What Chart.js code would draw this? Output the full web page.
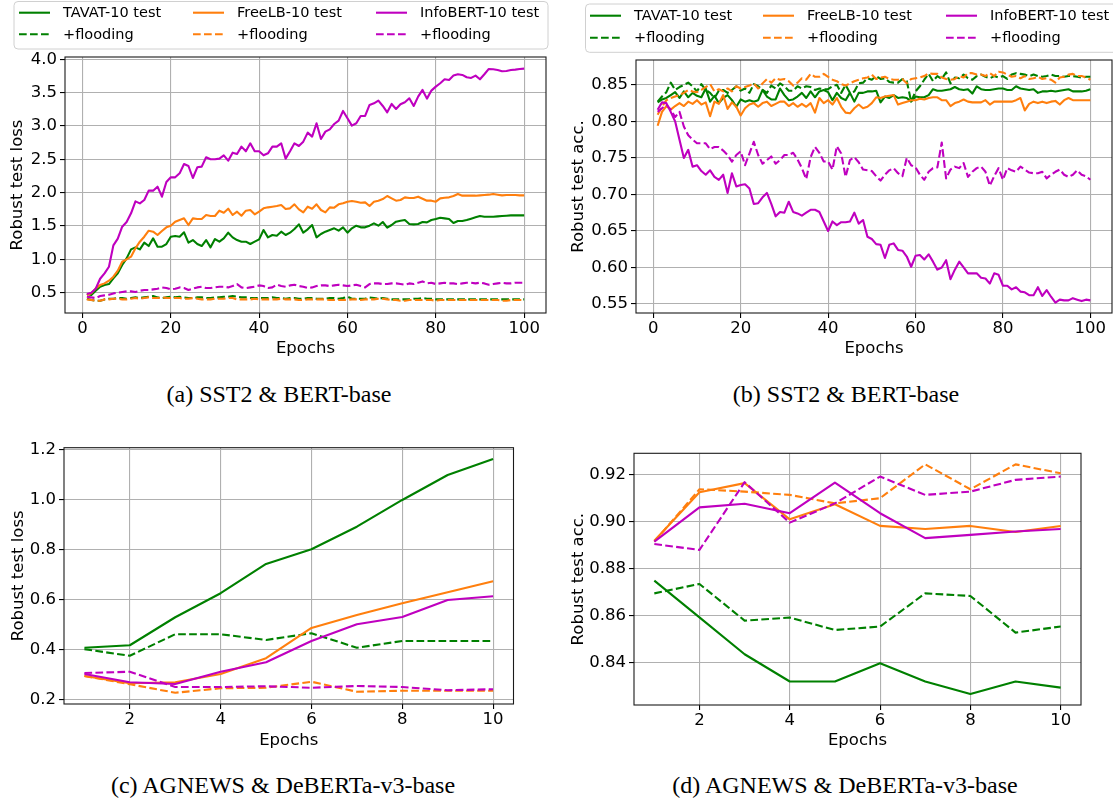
<!DOCTYPE html>
<html>
<head>
<meta charset="utf-8">
<script src="https://cdn.jsdelivr.net/npm/chart.js@4.4.1/dist/chart.umd.min.js"></script>
<style>
  body { margin: 0; background: #fff; width: 1113px; height: 802px; position: relative; overflow: hidden; }
  canvas { position: absolute; }
  .cap {
    position: absolute; white-space: nowrap; line-height: 1; color: #000;
    font-family: "Liberation Serif", "Times New Roman", serif; font-size: 24px;
    transform: translateX(-50%);
  }
</style>
</head>
<body>
<canvas id="ca" width="560" height="362" style="left:0;top:0"></canvas>
<canvas id="cb" width="553" height="362" style="left:560px;top:0"></canvas>
<canvas id="cc" width="560" height="335" style="left:0;top:420px"></canvas>
<canvas id="cd" width="553" height="335" style="left:560px;top:420px"></canvas>
<div class="cap" style="left:279px;top:382px">(a) SST2 &amp; BERT-base</div>
<div class="cap" style="left:846px;top:382px">(b) SST2 &amp; BERT-base</div>
<div class="cap" style="left:283px;top:773px">(c) AGNEWS &amp; DeBERTa-v3-base</div>
<div class="cap" style="left:845px;top:773px">(d) AGNEWS &amp; DeBERTa-v3-base</div>
<script>
// ------------------------------------
// DATA
// ------------------------------------
const epochsLong = Array.from({ length: 100 }, (_, i) => i + 1);
const epochsShort = [1, 2, 3, 4, 5, 6, 7, 8, 9, 10];

const legendNames = ["TAVAT-10 test", "+flooding", "FreeLB-10 test", "+flooding", "InfoBERT-10 test", "+flooding"];

// (a) SST2 robust test loss
const tavatLossA = [
  0.48, 0.465, 0.53, 0.59, 0.615, 0.63, 0.715, 0.79, 0.915, 1.015,
  1.15, 1.18, 1.15, 1.25, 1.20, 1.315, 1.19, 1.19, 1.23, 1.34,
  1.35, 1.34, 1.405, 1.25, 1.29, 1.23, 1.20, 1.29, 1.18, 1.305,
  1.265, 1.315, 1.40, 1.33, 1.29, 1.265, 1.265, 1.23, 1.265, 1.30,
  1.44, 1.33, 1.365, 1.355, 1.415, 1.365, 1.40, 1.455, 1.525, 1.40,
  1.45, 1.515, 1.33, 1.38, 1.415, 1.44, 1.465, 1.43, 1.48, 1.40,
  1.465, 1.505, 1.48, 1.48, 1.505, 1.54, 1.505, 1.56, 1.475, 1.515,
  1.565, 1.58, 1.59, 1.53, 1.525, 1.53, 1.56, 1.555, 1.59, 1.605,
  1.625, 1.615, 1.605, 1.545, 1.575, 1.575, 1.59, 1.61, 1.63, 1.65,
  1.64, 1.64, 1.64, 1.645, 1.65, 1.655, 1.66, 1.66, 1.66, 1.66,
];
const tavatFloodLossA = [
  0.41, 0.39, 0.38, 0.38, 0.40, 0.41, 0.41, 0.42, 0.42, 0.41,
  0.42, 0.43, 0.42, 0.43, 0.44, 0.45, 0.43, 0.42, 0.43, 0.44,
  0.43, 0.44, 0.43, 0.42, 0.42, 0.43, 0.43, 0.42, 0.42, 0.43,
  0.43, 0.44, 0.44, 0.45, 0.44, 0.43, 0.43, 0.42, 0.42, 0.42,
  0.42, 0.42, 0.43, 0.42, 0.42, 0.41, 0.42, 0.42, 0.41, 0.41,
  0.42, 0.42, 0.41, 0.41, 0.41, 0.42, 0.42, 0.41, 0.42, 0.44,
  0.41, 0.41, 0.41, 0.41, 0.43, 0.42, 0.41, 0.42, 0.41, 0.40,
  0.40, 0.40, 0.40, 0.40, 0.41, 0.41, 0.42, 0.41, 0.41, 0.40,
  0.40, 0.40, 0.40, 0.40, 0.40, 0.40, 0.40, 0.40, 0.40, 0.40,
  0.40, 0.40, 0.40, 0.40, 0.40, 0.40, 0.40, 0.40, 0.40, 0.40,
];
const freeLossA = [
  0.465, 0.49, 0.565, 0.615, 0.64, 0.68, 0.74, 0.83, 0.965, 1.0,
  1.04, 1.165, 1.265, 1.34, 1.43, 1.415, 1.365, 1.425, 1.48, 1.505,
  1.565, 1.59, 1.615, 1.515, 1.615, 1.605, 1.605, 1.665, 1.65, 1.65,
  1.73, 1.70, 1.76, 1.665, 1.715, 1.655, 1.73, 1.74, 1.675, 1.715,
  1.765, 1.78, 1.79, 1.80, 1.815, 1.755, 1.765, 1.825, 1.75, 1.705,
  1.79, 1.76, 1.825, 1.74, 1.705, 1.78, 1.775, 1.825, 1.84, 1.865,
  1.875, 1.865, 1.85, 1.855, 1.80, 1.865, 1.88, 1.905, 1.95, 1.915,
  1.88, 1.89, 1.93, 1.92, 1.92, 1.94, 1.91, 1.88, 1.88, 1.865,
  1.915, 1.925, 1.93, 1.95, 1.98, 1.955, 1.955, 1.955, 1.955, 1.96,
  1.965, 1.97, 1.98, 1.97, 1.96, 1.965, 1.965, 1.965, 1.96, 1.96,
];
const freeFloodLossA = [
  0.40, 0.39, 0.38, 0.38, 0.40, 0.40, 0.41, 0.41, 0.40, 0.40,
  0.41, 0.42, 0.41, 0.42, 0.43, 0.42, 0.42, 0.43, 0.42, 0.42,
  0.42, 0.42, 0.41, 0.41, 0.42, 0.41, 0.40, 0.40, 0.40, 0.41,
  0.41, 0.41, 0.42, 0.42, 0.40, 0.40, 0.40, 0.40, 0.41, 0.40,
  0.40, 0.40, 0.40, 0.40, 0.41, 0.40, 0.40, 0.40, 0.39, 0.39,
  0.40, 0.40, 0.40, 0.40, 0.40, 0.39, 0.39, 0.39, 0.39, 0.39,
  0.40, 0.40, 0.39, 0.40, 0.40, 0.40, 0.41, 0.41, 0.40, 0.39,
  0.39, 0.38, 0.38, 0.39, 0.39, 0.39, 0.39, 0.39, 0.39, 0.38,
  0.39, 0.39, 0.39, 0.39, 0.39, 0.39, 0.39, 0.39, 0.39, 0.39,
  0.39, 0.39, 0.39, 0.39, 0.38, 0.38, 0.39, 0.39, 0.39, 0.39,
];
const infoLossA = [
  0.48, 0.50, 0.56, 0.71, 0.79, 0.89, 1.21, 1.31, 1.49, 1.56,
  1.69, 1.87, 1.84, 1.89, 2.03, 2.03, 2.09, 1.94, 2.16, 2.23,
  2.23, 2.29, 2.43, 2.40, 2.22, 2.38, 2.39, 2.53, 2.50, 2.50,
  2.51, 2.56, 2.48, 2.60, 2.58, 2.69, 2.62, 2.74, 2.62, 2.62,
  2.56, 2.59, 2.69, 2.69, 2.74, 2.51, 2.62, 2.74, 2.70, 2.765,
  2.90, 2.84, 3.04, 2.805, 2.915, 2.95, 3.03, 3.08, 3.225, 3.115,
  3.005, 3.04, 3.15, 3.15, 3.315, 3.34, 3.38, 3.30, 3.205, 3.33,
  3.255, 3.325, 3.355, 3.415, 3.30, 3.44, 3.54, 3.41, 3.53, 3.59,
  3.64, 3.70, 3.69, 3.755, 3.775, 3.765, 3.73, 3.72, 3.755, 3.70,
  3.775, 3.855, 3.85, 3.84, 3.82, 3.825, 3.84, 3.845, 3.855, 3.86,
];
const infoFloodLossA = [
  0.44, 0.43, 0.42, 0.45, 0.46, 0.47, 0.49, 0.50, 0.51, 0.52,
  0.52, 0.51, 0.53, 0.54, 0.54, 0.55, 0.56, 0.58, 0.57, 0.55,
  0.56, 0.58, 0.57, 0.54, 0.56, 0.58, 0.59, 0.57, 0.57, 0.58,
  0.59, 0.59, 0.58, 0.60, 0.63, 0.58, 0.57, 0.58, 0.59, 0.61,
  0.60, 0.57, 0.58, 0.62, 0.60, 0.59, 0.61, 0.62, 0.60, 0.59,
  0.57, 0.58, 0.60, 0.61, 0.61, 0.60, 0.61, 0.62, 0.61, 0.60,
  0.61, 0.62, 0.60, 0.58, 0.63, 0.64, 0.64, 0.63, 0.63, 0.64,
  0.64, 0.63, 0.62, 0.64, 0.63, 0.65, 0.67, 0.64, 0.65, 0.63,
  0.64, 0.65, 0.64, 0.64, 0.63, 0.64, 0.65, 0.65, 0.64, 0.65,
  0.64, 0.62, 0.63, 0.64, 0.65, 0.64, 0.64, 0.65, 0.65, 0.65,
];

// (b) SST2 robust test accuracy
const tavatAccB = [
  0.826, 0.83, 0.832, 0.836, 0.84, 0.832, 0.841, 0.833, 0.839, 0.835,
  0.833, 0.845, 0.827, 0.835, 0.825, 0.832, 0.836, 0.829, 0.82, 0.83,
  0.827, 0.829, 0.827, 0.829, 0.843, 0.834, 0.83, 0.83, 0.845, 0.836,
  0.829, 0.83, 0.834, 0.839, 0.832, 0.841, 0.833, 0.841, 0.843, 0.84,
  0.829, 0.839, 0.832, 0.829, 0.839, 0.827, 0.839, 0.839, 0.841, 0.841,
  0.842, 0.826, 0.834, 0.832, 0.836, 0.832, 0.833, 0.832, 0.827, 0.834,
  0.833, 0.833, 0.836, 0.844, 0.842, 0.842, 0.843, 0.844, 0.847, 0.844,
  0.843, 0.844, 0.838, 0.848, 0.844, 0.843, 0.843, 0.844, 0.845, 0.845,
  0.843, 0.843, 0.848, 0.845, 0.844, 0.843, 0.844, 0.839, 0.841, 0.841,
  0.842, 0.841, 0.842, 0.843, 0.844, 0.841, 0.841, 0.841, 0.842, 0.844,
];
const tavatFloodAccB = [
  0.827, 0.834, 0.84, 0.853, 0.843, 0.847, 0.85, 0.853, 0.848, 0.841,
  0.851, 0.843, 0.839, 0.832, 0.842, 0.843, 0.839, 0.843, 0.848, 0.842,
  0.845, 0.839, 0.851, 0.848, 0.843, 0.839, 0.849, 0.845, 0.852, 0.848,
  0.842, 0.842, 0.848, 0.845, 0.848, 0.847, 0.843, 0.845, 0.844, 0.844,
  0.848, 0.85, 0.839, 0.85, 0.839, 0.841, 0.852, 0.853, 0.859, 0.857,
  0.862, 0.858, 0.859, 0.854, 0.853, 0.853, 0.858, 0.855, 0.827, 0.841,
  0.848, 0.857, 0.865, 0.855, 0.862, 0.858, 0.867, 0.852, 0.86, 0.859,
  0.864, 0.859, 0.857, 0.862, 0.864, 0.861, 0.859, 0.862, 0.86, 0.862,
  0.858, 0.864, 0.866, 0.865, 0.864, 0.862, 0.864, 0.862, 0.861, 0.862,
  0.864, 0.862, 0.862, 0.861, 0.862, 0.862, 0.861, 0.86, 0.861, 0.861,
];
const freeAccB = [
  0.794, 0.813, 0.821, 0.816, 0.821, 0.825, 0.821, 0.827, 0.824, 0.829,
  0.823, 0.826, 0.807, 0.827, 0.824, 0.836, 0.817, 0.826, 0.82, 0.808,
  0.818, 0.823, 0.825, 0.82, 0.825, 0.827, 0.821, 0.824, 0.827, 0.827,
  0.821, 0.825, 0.82, 0.824, 0.82, 0.825, 0.812, 0.832, 0.825, 0.829,
  0.823, 0.832, 0.82, 0.812, 0.811, 0.818, 0.823, 0.818, 0.82, 0.825,
  0.833, 0.832, 0.834, 0.835, 0.836, 0.823, 0.825, 0.827, 0.829, 0.829,
  0.831, 0.83, 0.832, 0.833, 0.833, 0.829, 0.829, 0.821, 0.825, 0.827,
  0.83, 0.827, 0.826, 0.826, 0.826, 0.829, 0.823, 0.827, 0.827, 0.827,
  0.827, 0.827, 0.829, 0.832, 0.815, 0.824, 0.827, 0.825, 0.827, 0.825,
  0.827, 0.828, 0.823, 0.829, 0.832, 0.829, 0.829, 0.829, 0.829, 0.829,
];
const freeFloodAccB = [
  0.809, 0.82, 0.829, 0.832, 0.834, 0.836, 0.839, 0.843, 0.841, 0.84,
  0.843, 0.847, 0.851, 0.841, 0.844, 0.841, 0.845, 0.841, 0.848, 0.845,
  0.847, 0.849, 0.852, 0.845, 0.852, 0.858, 0.853, 0.859, 0.857, 0.858,
  0.855, 0.849, 0.853, 0.859, 0.857, 0.865, 0.861, 0.861, 0.865, 0.861,
  0.857, 0.855, 0.851, 0.849, 0.852, 0.855, 0.857, 0.859, 0.86, 0.864,
  0.858, 0.86, 0.861, 0.858, 0.857, 0.857, 0.858, 0.852, 0.858, 0.859,
  0.86, 0.862, 0.866, 0.865, 0.865, 0.86, 0.858, 0.857, 0.858, 0.862,
  0.86, 0.866, 0.866, 0.864, 0.864, 0.862, 0.866, 0.862, 0.868, 0.867,
  0.864, 0.861, 0.862, 0.859, 0.862, 0.858, 0.859, 0.861, 0.858, 0.859,
  0.857, 0.853, 0.86, 0.861, 0.864, 0.865, 0.862, 0.862, 0.86, 0.857,
];
const infoAccB = [
  0.816, 0.826, 0.825, 0.813, 0.80, 0.775, 0.75, 0.761, 0.738, 0.74,
  0.732, 0.727, 0.733, 0.724, 0.72, 0.727, 0.702, 0.729, 0.711, 0.713,
  0.714, 0.708, 0.687, 0.688, 0.696, 0.702, 0.687, 0.67, 0.676, 0.675,
  0.69, 0.676, 0.674, 0.671, 0.675, 0.679, 0.679, 0.676, 0.663, 0.65,
  0.663, 0.658, 0.662, 0.662, 0.663, 0.675, 0.66, 0.665, 0.642, 0.639,
  0.632, 0.631, 0.613, 0.631, 0.633, 0.624, 0.623, 0.615, 0.601, 0.616,
  0.617, 0.611, 0.618, 0.608, 0.597, 0.60, 0.61, 0.584, 0.597, 0.608,
  0.60, 0.592, 0.592, 0.592, 0.586, 0.585, 0.578, 0.592, 0.59, 0.575,
  0.575, 0.57, 0.573, 0.567, 0.566, 0.562, 0.562, 0.573, 0.561, 0.569,
  0.56, 0.552, 0.556, 0.555, 0.555, 0.558, 0.556, 0.554, 0.556, 0.555,
];
const infoFloodAccB = [
  0.813, 0.818, 0.823, 0.816, 0.806, 0.813, 0.793, 0.781, 0.775, 0.77,
  0.77, 0.77, 0.762, 0.765, 0.765, 0.76, 0.754, 0.745, 0.754, 0.759,
  0.74, 0.756, 0.772, 0.754, 0.742, 0.747, 0.752, 0.742, 0.747, 0.754,
  0.754, 0.757, 0.748, 0.736, 0.721, 0.751, 0.765, 0.757, 0.745, 0.745,
  0.734, 0.766, 0.756, 0.724, 0.747, 0.751, 0.744, 0.734, 0.733, 0.732,
  0.725, 0.719, 0.727, 0.733, 0.736, 0.729, 0.725, 0.75, 0.74, 0.737,
  0.727, 0.72, 0.731, 0.736, 0.737, 0.771, 0.722, 0.734, 0.738, 0.736,
  0.743, 0.724, 0.731, 0.736, 0.738, 0.731, 0.712, 0.725, 0.736, 0.72,
  0.736, 0.733, 0.731, 0.738, 0.734, 0.73, 0.729, 0.729, 0.731, 0.722,
  0.727, 0.731, 0.734, 0.727, 0.724, 0.727, 0.733, 0.727, 0.725, 0.72,
];

// (c) AGNEWS robust test loss
const tavatLossC = [0.409, 0.419, 0.531, 0.627, 0.744, 0.803, 0.893, 1.0, 1.1, 1.164];
const tavatFloodLossC = [0.403, 0.377, 0.463, 0.463, 0.44, 0.467, 0.409, 0.436, 0.436, 0.436];
const freeLossC = [0.296, 0.267, 0.271, 0.304, 0.367, 0.488, 0.54, 0.587, 0.631, 0.675];
const freeFloodLossC = [0.296, 0.263, 0.229, 0.247, 0.249, 0.273, 0.233, 0.237, 0.237, 0.237];
const infoLossC = [0.304, 0.271, 0.264, 0.313, 0.351, 0.436, 0.503, 0.532, 0.60, 0.615];
const infoFloodLossC = [0.308, 0.313, 0.252, 0.252, 0.255, 0.249, 0.256, 0.252, 0.239, 0.243];

// (d) AGNEWS robust test accuracy
const tavatAccD = [0.875, 0.8594, 0.8437, 0.8321, 0.8321, 0.8399, 0.8321, 0.8268, 0.8321, 0.8295];
const tavatFloodAccD = [0.8696, 0.8736, 0.858, 0.8593, 0.854, 0.8555, 0.8696, 0.8685, 0.8529, 0.8555];
const freeAccD = [0.892, 0.9126, 0.9165, 0.9011, 0.9075, 0.8983, 0.897, 0.8983, 0.8957, 0.8983];
const freeFloodAccD = [0.8916, 0.9139, 0.9129, 0.9115, 0.9079, 0.9101, 0.9245, 0.9139, 0.9245, 0.9207];
const infoAccD = [0.8916, 0.9062, 0.9077, 0.9037, 0.9167, 0.9037, 0.8931, 0.8945, 0.8959, 0.897];
const infoFloodAccD = [0.8906, 0.8881, 0.9169, 0.8997, 0.9079, 0.9193, 0.9115, 0.9129, 0.9179, 0.9193];

// tick values
const xTicksLong = [0, 20, 40, 60, 80, 100];
const xTicksShort = [2, 4, 6, 8, 10];
const yTicksA = [0.5, 1.0, 1.5, 2.0, 2.5, 3.0, 3.5, 4.0];
const yTicksB = [0.55, 0.60, 0.65, 0.70, 0.75, 0.80, 0.85];
const yTicksC = [0.2, 0.4, 0.6, 0.8, 1.0, 1.2];
const yTicksD = [0.84, 0.86, 0.88, 0.90, 0.92];

// ------------------------------------
// STYLE
// ------------------------------------
const lineColors = ["#008000", "#008000", "#ff7f0e", "#ff7f0e", "#bf00bf", "#bf00bf"];
const dashPattern = [7.7, 3.3];

Chart.defaults.font.family = "'DejaVu Sans', sans-serif";
Chart.defaults.font.size = 16.5;
Chart.defaults.color = "#000";

// black box around the plot area, drawn over the lines
const frame = {
  id: "frame",
  afterDatasetsDraw(chart) {
    const a = chart.chartArea;
    const ctx = chart.ctx;
    ctx.save();
    ctx.strokeStyle = "#1a1a1a";
    ctx.lineWidth = 1.1;
    ctx.strokeRect(a.left, a.top, a.right - a.left, a.bottom - a.top);
    ctx.restore();
  },
};

// 3-column legend, column-major like the dataset order
const boxLegend = {
  id: "boxLegend",
  afterDraw(chart, args, o) {
    if (!o || !o.box) return;
    const ctx = chart.ctx;
    const [bx, by, bw, bh] = o.box;
    ctx.save();
    ctx.beginPath();
    ctx.roundRect(bx, by, bw, bh, 4);
    ctx.fillStyle = "rgba(255,255,255,0.8)";
    ctx.fill();
    ctx.strokeStyle = "#d0d0d0";
    ctx.lineWidth = 1;
    ctx.stroke();
    ctx.font = "14.5px 'DejaVu Sans'";
    ctx.textAlign = "left";
    ctx.textBaseline = "middle";
    chart.data.datasets.forEach((ds, i) => {
      const x = o.x0 + o.colDx[Math.floor(i / 2)];
      const y = o.y0 + (i % 2) * o.rowDy;
      ctx.beginPath();
      ctx.setLineDash(ds.borderDash);
      ctx.strokeStyle = ds.borderColor;
      ctx.lineWidth = 2.1;
      ctx.moveTo(x, y);
      ctx.lineTo(x + 31, y);
      ctx.stroke();
      ctx.setLineDash([]);
      ctx.fillStyle = "#000";
      ctx.fillText(ds.label, x + 44, y + 0.5);
    });
    ctx.restore();
  },
};

// ------------------------------------
// PANEL BUILDER
// ------------------------------------
function buildPanel(id, labels, series, p) {
  const datasets = series.map((s, i) => ({
    label: legendNames[i],
    data: s,
    borderColor: lineColors[i],
    borderDash: i % 2 ? dashPattern : [],
    borderWidth: 2.1,
    borderJoinStyle: "round",
    pointRadius: 0,
    tension: 0,
    fill: false,
    order: series.length - i,
  }));

  const grid = {
    color: "#b0b0b0",
    lineWidth: 1.1,
    tickColor: "#000",
    tickLength: 5,
    tickWidth: 1.1,
  };

  return new Chart(document.getElementById(id), {
    type: "line",
    data: { labels: labels, datasets: datasets },
    options: {
      responsive: false,
      animation: false,
      events: [],
      layout: { padding: p.pad },
      plugins: {
        legend: { display: false },
        tooltip: { enabled: false },
        boxLegend: p.legend || false,
      },
      scales: {
        x: {
          type: "linear",
          bounds: "data",
          min: p.xRange[0],
          max: p.xRange[1],
          afterBuildTicks: (sc) => { sc.ticks = p.xTicks.map((v) => ({ value: v })); },
          afterFit: (sc) => { sc.height = p.xAxisH; },
          ticks: { padding: 1, maxRotation: 0, autoSkip: false, callback: (v) => String(v) },
          grid: grid,
          border: { display: false },
          title: { display: true, text: "Epochs", padding: { top: 0, bottom: p.xTitlePad } },
        },
        y: {
          type: "linear",
          bounds: "data",
          min: p.yRange[0],
          max: p.yRange[1],
          afterBuildTicks: (sc) => { sc.ticks = p.yTicks.map((v) => ({ value: v })); },
          afterFit: (sc) => { sc.width = p.yAxisW; },
          ticks: { padding: 3, autoSkip: false, callback: (v) => v.toFixed(p.yDigits) },
          grid: grid,
          border: { display: false },
          title: { display: true, text: p.yTitle, padding: { top: p.yTitlePad, bottom: 0 } },
        },
      },
    },
    plugins: [frame, boxLegend],
  });
}

// ------------------------------------
// (a) SST2 loss
// ------------------------------------
buildPanel("ca", epochsLong,
  [tavatLossA, tavatFloodLossA, freeLossA, freeFloodLossA, infoLossA, infoFloodLossA], {
    pad: { left: 0, right: 14, top: 57, bottom: 0 },
    xRange: [-3.95, 104.95], yRange: [0.196, 4.034],
    xTicks: xTicksLong, yTicks: yTicksA, yDigits: 1,
    xAxisH: 49, yAxisW: 65, xTitlePad: 3, yTitlePad: 8,
    yTitle: "Robust test loss",
    legend: { box: [14, 1.5, 534, 47.5], x0: 19, y0: 12.7, rowDy: 21.6, colDx: [0, 174, 357] },
  });

// ------------------------------------
// (b) SST2 accuracy
// ------------------------------------
buildPanel("cb", epochsLong,
  [tavatAccB, tavatFloodAccB, freeAccB, freeFloodAccB, infoAccB, infoFloodAccB], {
    pad: { left: 0, right: 1, top: 60, bottom: 0 },
    xRange: [-3.95, 104.95], yRange: [0.5377, 0.884],
    xTicks: xTicksLong, yTicks: yTicksB, yDigits: 2,
    xAxisH: 49, yAxisW: 76, xTitlePad: 3, yTitlePad: 9,
    yTitle: "Robust test acc.",
    legend: { box: [25.5, 4, 545, 48.3], x0: 30, y0: 15.7, rowDy: 22, colDx: [0, 173, 356] },
  });

// ------------------------------------
// (c) AGNEWS loss
// ------------------------------------
buildPanel("cc", epochsShort,
  [tavatLossC, tavatFloodLossC, freeLossC, freeFloodLossC, infoLossC, infoFloodLossC], {
    pad: { left: 0, right: 46.5, top: 27.7, bottom: 0 },
    xRange: [0.55, 10.45], yRange: [0.184, 1.209],
    xTicks: xTicksShort, yTicks: yTicksC, yDigits: 1,
    xAxisH: 51, yAxisW: 64, xTitlePad: 4.4, yTitlePad: 9,
    yTitle: "Robust test loss",
  });

// ------------------------------------
// (d) AGNEWS accuracy
// ------------------------------------
buildPanel("cd", epochsShort,
  [tavatAccD, tavatFloodAccD, freeAccD, freeFloodAccD, infoAccD, infoFloodAccD], {
    pad: { left: 0, right: 32, top: 33.3, bottom: 0 },
    xRange: [0.55, 10.45], yRange: [0.8221, 0.9292],
    xTicks: xTicksShort, yTicks: yTicksD, yDigits: 2,
    xAxisH: 50, yAxisW: 74, xTitlePad: 4.4, yTitlePad: 9,
    yTitle: "Robust test acc.",
  });
</script>
</body>
</html>
